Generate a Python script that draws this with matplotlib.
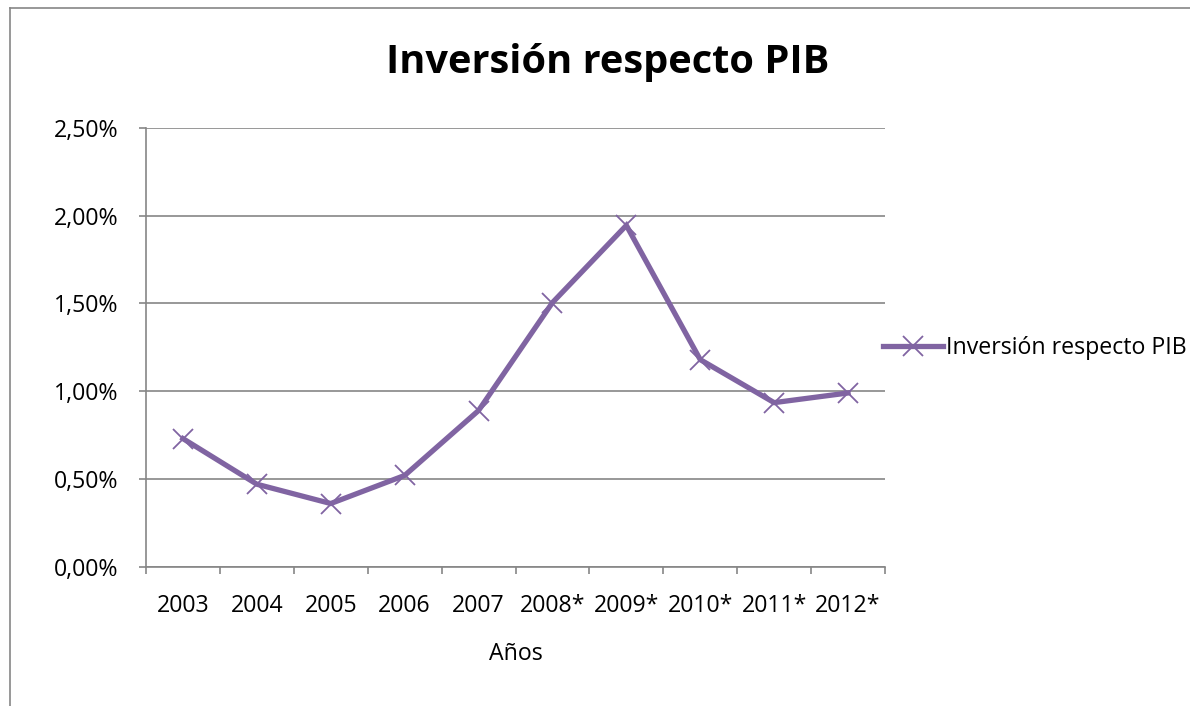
import matplotlib.pyplot as plt
from matplotlib.lines import Line2D
import numpy as np

years = ['2003', '2004', '2005', '2006', '2007', '2008*', '2009*', '2010*', '2011*', '2012*']
inversion_pib = [0.73, 0.47, 0.36, 0.52, 0.89, 1.505, 1.945, 1.18, 0.935, 0.99]
y_ticks = [0.0, 0.5, 1.0, 1.5, 2.0, 2.5]

purple = '#8064A2'
gray = '#868686'
font = 'Open Sans'
plt.rcParams['font.family'] = [font, 'DejaVu Sans']
fs = 16.7

fig = plt.figure(figsize=(11.9, 7.06), dpi=100)
ax = fig.add_axes([146 / 1190, 1 - 566.7 / 706, (885 - 146) / 1190, (566.7 - 128) / 706])

x = np.arange(len(years))
ax.plot(x, inversion_pib, color=purple, lw=3.8, marker='x', ms=14, mew=1.3,
        mec=purple, label='Inversión respecto PIB', solid_joinstyle='miter')

ax.set_xlim(-0.5, len(years) - 0.5)
ax.set_ylim(0, 2.5)
ax.set_yticks(y_ticks)
ax.set_yticklabels([('%.2f%%' % v).replace('.', ',') for v in y_ticks], fontsize=fs)
ax.set_xticks(x)
ax.set_xticklabels(years, fontsize=fs)
ax.set_xticks(np.arange(-0.5, len(years)), minor=True)
ax.tick_params(axis='x', which='major', length=0, pad=20)
ax.tick_params(axis='x', which='minor', length=5, width=1.2, color=gray, direction='out')
ax.tick_params(axis='y', length=5, width=1.2, color=gray, pad=15)

ax.grid(axis='y', color=gray, lw=1.2)
ax.set_axisbelow(True)
for s in ['top', 'right']:
    ax.spines[s].set_visible(False)
for s in ['left', 'bottom']:
    ax.spines[s].set_color(gray)
    ax.spines[s].set_linewidth(1.2)

ax.set_xlabel('Años', fontsize=fs, labelpad=17)

fig.text(608 / 1190, 1 - 63 / 706, 'Inversión respecto PIB', fontsize=28.6, fontweight='bold',
         ha='center', va='center')

fig.legend(loc='center left', bbox_to_anchor=(883 / 1190, 1 - 348 / 706), frameon=False,
           fontsize=fs, handlelength=2.6, handletextpad=0.1, borderpad=0, borderaxespad=0)

# chart area border (only top and left visible in the crop)
fig.add_artist(Line2D([10 / 1190, 1], [1 - 8 / 706, 1 - 8 / 706], color=gray, lw=1.2))
fig.add_artist(Line2D([10 / 1190, 10 / 1190], [0, 1 - 8 / 706], color=gray, lw=1.2))

fig.savefig('out.png', dpi=100)
